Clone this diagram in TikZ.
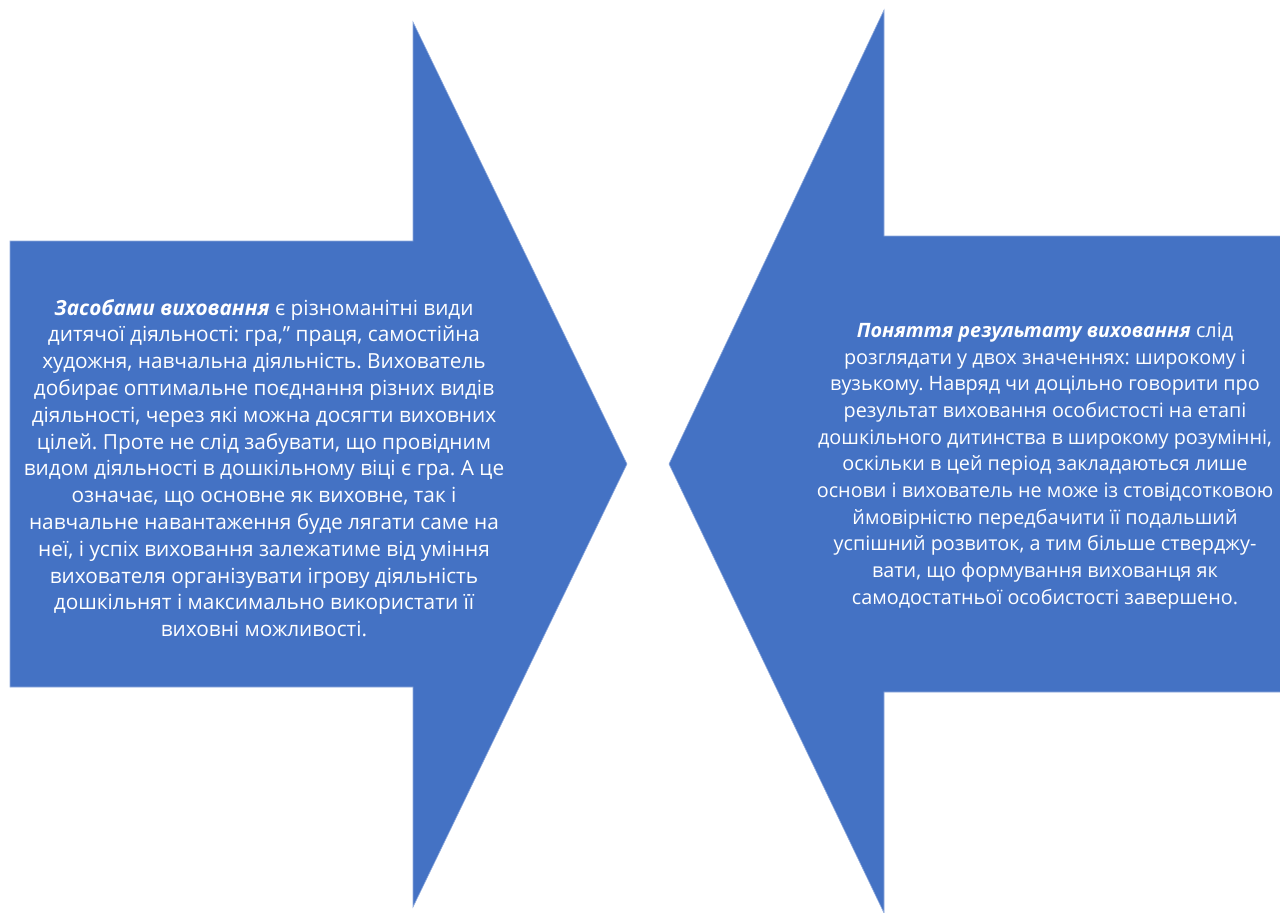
\documentclass[tikz,border=0pt]{standalone}
\usepackage{fontspec}
\setmainfont{Open Sans}
\frenchspacing
\definecolor{arrowblue}{HTML}{4472C4}
\tikzset{
  arrowshape/.style={fill=arrowblue, draw=arrowblue!60!white, line width=0.6pt},
  arrowtext/.style={text=white, align=center, inner sep=0pt},
}
\begin{document}
\begin{tikzpicture}[x=1pt,y=-1pt]
\useasboundingbox (0,0) rectangle (1280,913);

% left arrow
\draw[arrowshape] (10,241) -- (413,241) -- (413,22) -- (627,464) -- (413,907)
  -- (413,687) -- (10,687) -- cycle;

% right arrow
\draw[arrowshape] (1281,236) -- (884,236) -- (884,10) -- (669,464) -- (884,913)
  -- (884,692) -- (1281,692) -- cycle;

\node[arrowtext, font=\fontsize{20.8}{26.8}\selectfont] (lefttext) at (264,468)
  {\textbf{\textit{Засобами виховання}} є різноманітні види\\
   дитячої діяльності: гра," праця, самостійна\\
   художня, навчальна діяльність. Вихователь\\
   добирає оптимальне поєднання різних видів\\
   діяльності, через які можна досягти виховних\\
   цілей. Проте не слід забувати, що провідним\\
   видом діяльності в дошкільному віці є гра. А це\\
   означає, що основне як виховне, так і\\
   навчальне навантаження буде лягати саме на\\
   неї, і успіх виховання залежатиме від уміння\\
   вихователя організувати ігрову діяльність\\
   дошкільнят і максимально використати її\\
   виховні можливості.};

\node[arrowtext, font=\fontsize{19.8}{26.7}\selectfont] (righttext) at (1045,466)
  {\textbf{\textit{Поняття результату виховання}} слід\\
   розглядати у двох значеннях: широкому і\\
   вузькому. Навряд чи доцільно говорити про\\
   результат виховання особистості на етапі\\
   дошкільного дитинства в широкому розумінні,\\
   оскільки в цей період закладаються лише\\
   основи і вихователь не може із стовідсотковою\\
   ймовірністю передбачити її подальший\\
   успішний розвиток, а тим більше стверджу-\\
   вати, що формування вихованця як\\
   самодостатньої особистості завершено.};
\end{tikzpicture}
\end{document}
